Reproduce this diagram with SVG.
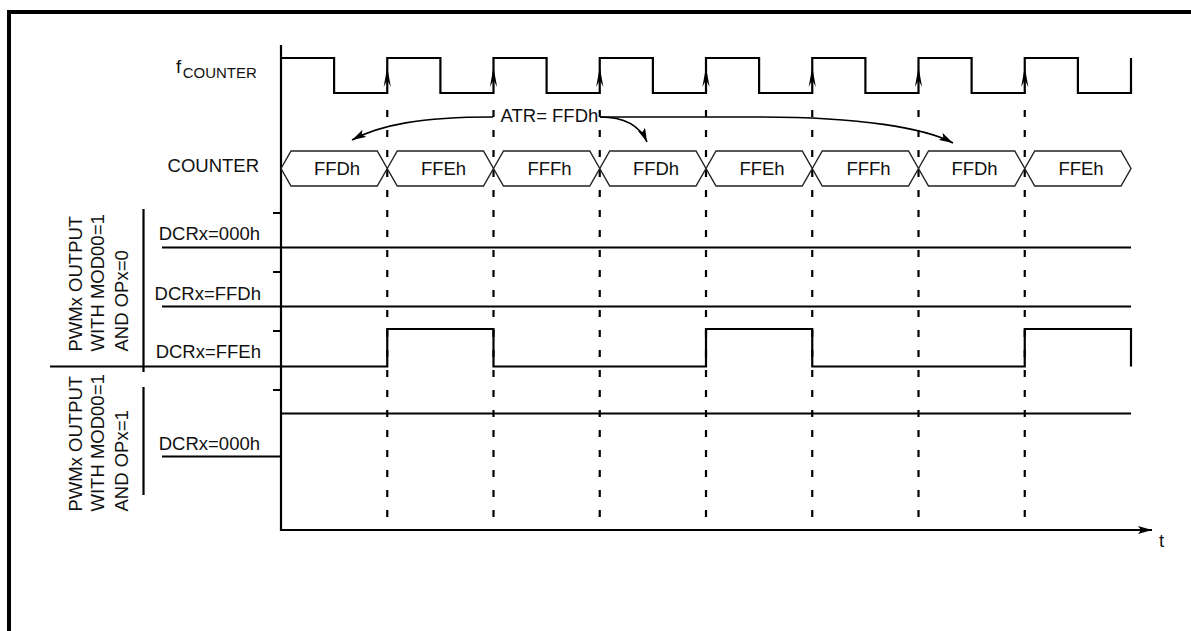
<svg xmlns="http://www.w3.org/2000/svg" width="1191" height="631" viewBox="0 0 1191 631">
<style>
text{font-family:"Liberation Sans",Arial,sans-serif;font-size:18.5px;fill:#111}
.w{fill:none;stroke:#000;stroke-width:2.2}
.hx{fill:none;stroke:#222;stroke-width:1.4}
.d{fill:none;stroke:#000;stroke-width:2.2;stroke-dasharray:7 13}
.c{fill:none;stroke:#000;stroke-width:1.6}
.mid{text-anchor:middle}
.end{text-anchor:end}
</style>
<defs>
<marker id="ah" viewBox="0 0 14 8" refX="14" refY="4" markerWidth="14" markerHeight="8" markerUnits="userSpaceOnUse" orient="auto">
<path d="M0,0 L14,4 L0,8 L3,4 Z" fill="#000"/>
</marker>
<marker id="ax" viewBox="0 0 14 8" refX="14" refY="4" markerWidth="14" markerHeight="8" markerUnits="userSpaceOnUse" orient="auto">
<path d="M0,0 L14,4 L0,8 L3,4 Z" fill="#000"/>
</marker>
<path id="ca" d="M-3.6,87 L0,67 L3.6,87 L0,80 Z" fill="#000"/>
</defs>

<g id="frame"><path d="M9,631 V12 H1191" fill="none" stroke="#000" stroke-width="4"/></g>

<g id="labels">
<text x="176" y="73">f<tspan font-size="15" dx="1.5" dy="5">COUNTER</tspan></text>
<text class="end" x="259" y="172">COUNTER</text>
<text class="end" x="260" y="240">DCRx=000h</text>
<text class="end" x="261" y="300">DCRx=FFDh</text>
<text class="end" x="261" y="358">DCRx=FFEh</text>
<text class="end" x="260" y="450">DCRx=000h</text>
<text x="1159" y="547" font-size="21">t</text>
<text transform="translate(81.5,351.5) rotate(-90)">PWMx OUTPUT</text>
<text transform="translate(104,351.5) rotate(-90)">WITH MOD00=1</text>
<text transform="translate(127.5,351.5) rotate(-90)">AND OPx=0</text>
<text transform="translate(81.5,511.5) rotate(-90)">PWMx OUTPUT</text>
<text transform="translate(104,511.5) rotate(-90)">WITH MOD00=1</text>
<text transform="translate(127.5,511.5) rotate(-90)">AND OPx=1</text>
</g>

<g id="brackets">
<path class="w" d="M143.5,209 V372 M143.5,387 V495 M50,366.5 H281"/>
</g>

<g id="axes">
<path class="w" d="M281,45 V530 H1152" marker-end="url(#ax)"/>
<path class="w" d="M273,213 H281 M273,272 H281 M273,331 H281 M273,390 H281"/>
</g>

<g id="clock">
<path class="w" d="M281,58 H334.1 V93 H387.25 V58 H440.4 V93 H493.5 V58 H546.6 V93 H599.75 V58 H652.9 V93 H706 V58 H759.1 V93 H812.25 V58 H865.4 V93 H918.5 V58 H971.6 V93 H1024.75 V58 H1077.9 V93 H1131 V58"/>
<use href="#ca" x="387.25"/>
<use href="#ca" x="493.5"/>
<use href="#ca" x="599.75"/>
<use href="#ca" x="706"/>
<use href="#ca" x="812.25"/>
<use href="#ca" x="918.5"/>
<use href="#ca" x="1024.75"/>
</g>

<g id="gridlines">
<path class="d" d="M387.25,110 V530 M493.5,110 V530 M599.75,110 V530 M706,110 V530 M812.25,110 V530 M918.5,110 V530 M1024.75,110 V530"/>
</g>

<g id="counter">
<path class="hx" d="M281,168.5 L291,151 H377.25 L387.25,168.5 L377.25,186 H291 Z"/>
<path class="hx" d="M387.25,168.5 L397.25,151 H483.5 L493.5,168.5 L483.5,186 H397.25 Z"/>
<path class="hx" d="M493.5,168.5 L503.5,151 H589.75 L599.75,168.5 L589.75,186 H503.5 Z"/>
<path class="hx" d="M599.75,168.5 L609.75,151 H696 L706,168.5 L696,186 H609.75 Z"/>
<path class="hx" d="M706,168.5 L716,151 H802.25 L812.25,168.5 L802.25,186 H716 Z"/>
<path class="hx" d="M812.25,168.5 L822.25,151 H908.5 L918.5,168.5 L908.5,186 H822.25 Z"/>
<path class="hx" d="M918.5,168.5 L928.5,151 H1014.75 L1024.75,168.5 L1014.75,186 H928.5 Z"/>
<path class="hx" d="M1024.75,168.5 L1034.75,151 H1121 L1131,168.5 L1121,186 H1034.75 Z"/>
<text class="mid" x="337" y="175">FFDh</text>
<text class="mid" x="443.5" y="175">FFEh</text>
<text class="mid" x="549.5" y="175">FFFh</text>
<text class="mid" x="656" y="175">FFDh</text>
<text class="mid" x="762" y="175">FFEh</text>
<text class="mid" x="868.5" y="175">FFFh</text>
<text class="mid" x="974.5" y="175">FFDh</text>
<text class="mid" x="1081" y="175">FFEh</text>
</g>

<g id="atr">
<text x="500.5" y="121.7">ATR= FFDh</text>
</g>

<g id="connectors">
<path class="c" d="M493,117 C420,117 380,125 352,140" marker-end="url(#ah)"/>
<path class="c" d="M600,117 C625,117 640,126 647,142" marker-end="url(#ah)"/>
<path class="c" d="M600,117 L760,117 C860,117 925,128 953,143" marker-end="url(#ah)"/>
</g>

<g id="pwm">
<path class="w" d="M162,247.5 H1131"/>
<path class="w" d="M162,306.5 H1131"/>
<path class="w" d="M281,366.5 H387.25 V329 H493.5 V366.5 H706 V329 H812.25 V366.5 H1024.75 V329 H1131 V366.5"/>
<path class="w" d="M281,413.5 H1131"/>
<path class="w" d="M162,456.5 H281"/>
</g>
</svg>
